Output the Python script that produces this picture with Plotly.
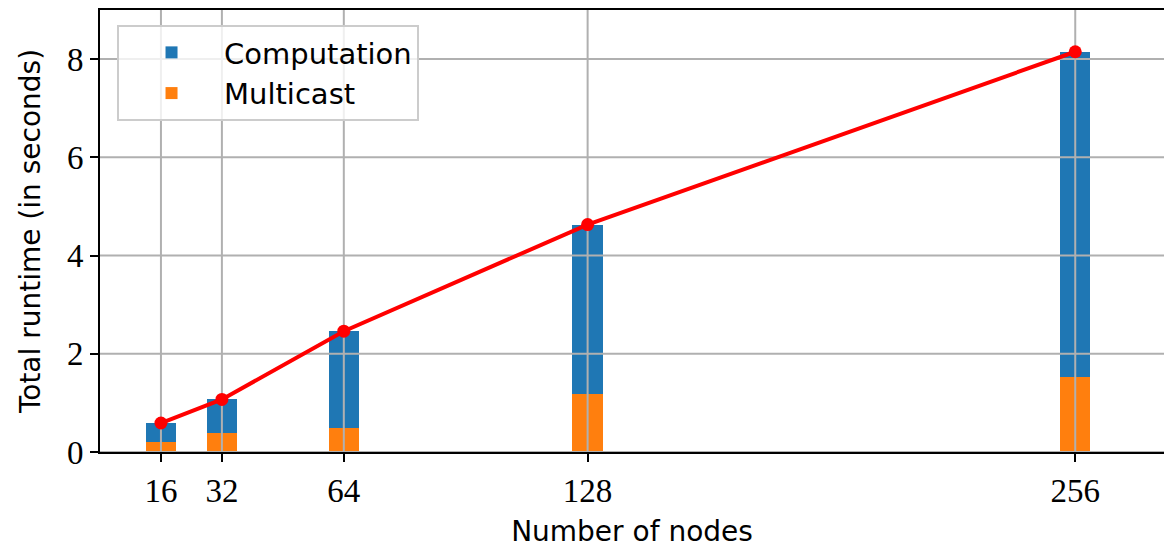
import plotly.graph_objects as go

nodes = [16, 32, 64, 128, 256]
total = [0.59, 1.07, 2.46, 4.63, 8.15]
multicast = [0.21, 0.38, 0.49, 1.18, 1.53]
computation = [t - m for t, m in zip(total, multicast)]
xticks = [16, 32, 64, 128, 256]
yticks = [0, 2, 4, 6, 8]

XR = [0, 279.3]
YR = [0, 9]

SANS = "DejaVu Sans"
SERIF = "Liberation Serif"

fig = go.Figure()
fig.add_trace(go.Bar(x=nodes, y=multicast, width=8, marker_color="#ff7f0e",
                     marker_line_width=0, name="Multicast", legendrank=2))
fig.add_trace(go.Bar(x=nodes, y=computation, width=8, marker_color="#1f77b4",
                     marker_line_width=0, name="Computation", legendrank=1))

# grid lines (above bars, below line, like matplotlib)
gx, gy = [], []
for t in xticks:
    gx += [t, t, None]
    gy += [YR[0], YR[1], None]
for t in yticks:
    gx += [XR[0], XR[1], None]
    gy += [t, t, None]
fig.add_trace(go.Scatter(x=gx, y=gy, mode="lines", line=dict(color="#b0b0b0", width=2),
                         hoverinfo="skip", showlegend=False))

fig.add_trace(go.Scatter(x=nodes, y=total, mode="lines+markers",
                         line=dict(color="red", width=4),
                         marker=dict(color="red", size=13), showlegend=False))

fig.update_layout(
    width=1164, height=551,
    margin=dict(l=100, r=0, t=10, b=99),
    plot_bgcolor="white", paper_bgcolor="white",
    barmode="stack", bargap=0,
    showlegend=True,
    legend=dict(x=0.016, y=0.966, xanchor="left", yanchor="top",
                bordercolor="#cccccc", borderwidth=2, bgcolor="rgba(255,255,255,0.8)",
                font=dict(family=SANS, size=29, color="black"),
                itemwidth=95, traceorder="normal"),
    xaxis=dict(range=XR, tickvals=xticks, ticktext=[str(t) for t in xticks],
               showgrid=False, zeroline=False, showline=True, linecolor="black",
               linewidth=2, mirror=True, ticks="outside", ticklen=8, tickwidth=2,
               tickcolor="black",
               tickfont=dict(family=SERIF, size=33, color="black"),
               title=dict(text="Number of nodes", font=dict(family=SANS, size=28, color="black"),
                          standoff=14)),
    yaxis=dict(range=YR, tickvals=yticks, showgrid=False, zeroline=False,
               showline=True, linecolor="black", linewidth=2, ticks="outside",
               ticklen=8, tickwidth=2, tickcolor="black",
               tickfont=dict(family=SERIF, size=33, color="black"),
               title=dict(text="Total runtime (in seconds)",
                          font=dict(family=SANS, size=28, color="black"), standoff=18)),
)

fig.write_html("out.html")
